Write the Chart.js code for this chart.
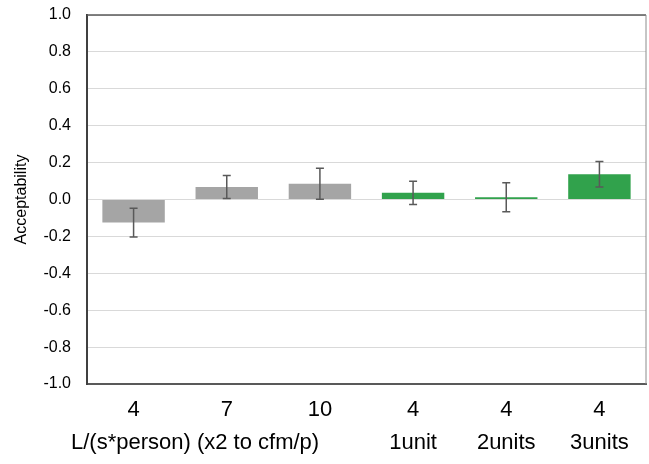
<!DOCTYPE html>
<html>
<head>
<meta charset="utf-8">
<script src="https://cdn.jsdelivr.net/npm/chart.js@4.4.1/dist/chart.umd.min.js"></script>
<style>
  html, body { margin: 0; padding: 0; background: #ffffff; }
  #wrap { width: 649px; height: 464px; position: relative; }
</style>
</head>
<body>
<div id="wrap"><canvas id="c"></canvas></div>
<script>
// ---- data ----
const categories = ["4", "7", "10", "4", "4", "4"];
const subLabels = ["", "", "", "1unit", "2units", "3units"];
const groupLabel = "L/(s*person) (x2 to cfm/p)";
const acceptability = [-0.125, 0.068, 0.086, 0.036, 0.012, 0.137];
const errors = [0.078, 0.062, 0.084, 0.063, 0.079, 0.069];
const barColors = ["#a5a5a5", "#a5a5a5", "#a5a5a5", "#31a24c", "#31a24c", "#31a24c"];
const yTitle = "Acceptability";

const FONT = "'Liberation Sans', Arial, sans-serif";

const errorBarPlugin = {
  id: 'errorBars',
  afterDatasetsDraw(chart) {
    const ctx = chart.ctx;
    const meta = chart.getDatasetMeta(0);
    const y = chart.scales.y;
    ctx.save();
    ctx.strokeStyle = '#595959';
    ctx.lineWidth = 1.5;
    meta.data.forEach((bar, i) => {
      const v = acceptability[i], e = errors[i];
      const yt = y.getPixelForValue(v + e);
      const yb = y.getPixelForValue(v - e);
      const x = bar.x;
      ctx.beginPath();
      ctx.moveTo(x, yt); ctx.lineTo(x, yb);
      ctx.moveTo(x - 4, yt); ctx.lineTo(x + 4, yt);
      ctx.moveTo(x - 4, yb); ctx.lineTo(x + 4, yb);
      ctx.stroke();
    });
    ctx.restore();
  }
};

const framePlugin = {
  id: 'frame',
  afterDraw(chart) {
    const {ctx, chartArea: a} = chart;
    ctx.save();
    ctx.strokeStyle = '#595959';
    ctx.lineWidth = 1.5;
    ctx.beginPath();
    ctx.moveTo(a.left, a.top); ctx.lineTo(a.right, a.top);
    ctx.stroke();
    ctx.strokeStyle = '#8c8c8c';
    ctx.lineWidth = 1;
    ctx.beginPath();
    ctx.moveTo(a.right, a.top); ctx.lineTo(a.right, a.bottom);
    ctx.stroke();
    // group label under the first three categories
    const xs = chart.scales.x;
    const t = xs.options.ticks;
    const lh = t.font.size * t.font.lineHeight;
    const cx = xs.getPixelForValue(0.66);
    ctx.fillStyle = '#000000';
    ctx.font = t.font.size + 'px ' + FONT;
    ctx.textAlign = 'center';
    ctx.textBaseline = 'middle';
    ctx.fillText(groupLabel, cx, xs.top + t.padding + lh * 1.5);
    ctx.restore();
  }
};

new Chart(document.getElementById('c'), {
  type: 'bar',
  data: {
    labels: categories.map((c, i) => [c, subLabels[i]]),
    datasets: [{
      data: acceptability,
      backgroundColor: barColors,
      borderWidth: 0,
      barPercentage: 0.67,
      categoryPercentage: 1.0
    }]
  },
  options: {
    responsive: true,
    maintainAspectRatio: false,
    animation: false,
    devicePixelRatio: 1,
    layout: { padding: { top: 15, right: 3, bottom: 0, left: 0 } },
    plugins: { legend: { display: false }, tooltip: { enabled: false } },
    scales: {
      x: {
        type: 'category',
        grid: { display: false, drawTicks: false },
        border: { display: true, color: '#595959', width: 2 },
        ticks: {
          color: '#000000',
          padding: 9,
          maxRotation: 0,
          autoSkip: false,
          font: { family: FONT, size: 22, lineHeight: 33 / 22 }
        },
        afterFit(s) { s.height = 80; s.paddingLeft = 0; s.paddingRight = 0; }
      },
      y: {
        min: -1, max: 1,
        grid: { color: '#d9d9d9', lineWidth: 1, drawTicks: false },
        border: { display: true, color: '#404040', width: 2 },
        ticks: {
          stepSize: 0.2,
          color: '#000000',
          padding: 16,
          font: { family: FONT, size: 16 },
          callback: (v) => (Math.abs(v) < 1e-9 ? 0 : v).toFixed(1)
        },
        title: {
          display: true,
          text: yTitle,
          color: '#000000',
          font: { family: FONT, size: 16 },
          padding: { top: 12, bottom: 0 }
        },
        afterFit(s) { s.width = 87; s.paddingTop = 0; s.paddingBottom = 0; }
      }
    }
  },
  plugins: [errorBarPlugin, framePlugin]
});
</script>
</body>
</html>
